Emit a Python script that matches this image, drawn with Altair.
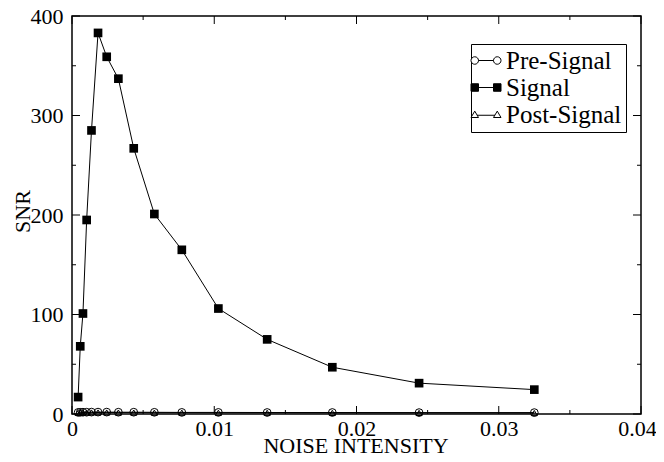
import altair as alt
import pandas as pd

# ---- data ----
noise = [0.00043, 0.00058, 0.00077, 0.00103, 0.00137, 0.00183, 0.00244, 0.00326,
         0.00434, 0.00579, 0.00772, 0.01029, 0.01372, 0.0183, 0.0244, 0.0325]
signal = [17, 68, 101, 195, 285, 383, 359, 337, 267, 201, 165, 106, 75, 47, 31, 24.5]
pre_signal = [1.6, 1.7, 1.8, 1.8, 1.9, 1.9, 1.9, 1.8, 1.8, 1.7, 1.6, 1.6, 1.5, 1.5, 1.4, 1.4]
post_signal = [1.2, 1.3, 1.4, 1.4, 1.5, 1.5, 1.5, 1.4, 1.4, 1.3, 1.3, 1.2, 1.2, 1.1, 1.1, 1.0]
series_names = ["Pre-Signal", "Signal", "Post-Signal"]
x_major = [0, 0.01, 0.02, 0.03, 0.04]
x_minor = [0.005, 0.015, 0.025, 0.035]
y_major = [0, 100, 200, 300, 400]
y_minor = [50, 150, 250, 350]

rows = []
for name, vals in zip(series_names, [pre_signal, signal, post_signal]):
    for xv, yv in zip(noise, vals):
        rows.append({"noise": xv, "snr": yv, "series": name})
df = pd.DataFrame(rows)

FONT = "Liberation Serif"
W, H = 569, 398
MAJ, MIN = 8, 4
xscale = alt.Scale(domain=[0, 0.04], nice=False, zero=False)
yscale = alt.Scale(domain=[0, 400], nice=False)

x_axis = alt.Axis(
    values=x_major, title="NOISE INTENSITY", grid=False, domain=False, ticks=False, tickSize=0,
    labelExpr="datum.value == 0 ? '0' : format(datum.value, '.2f')",
    labelFont=FONT, labelFontSize=22, labelColor="black", labelPadding=4,
    labelFlush=False, labelOverlap=False,
    labelOffset={"condition": {"test": "datum.value > 0.039", "value": -4}, "value": 0},
    titleFont=FONT, titleFontSize=22, titleFontWeight="normal", titleColor="black",
    titleX=W / 2 - 1, titleY=31, titleBaseline="middle", titleAlign="center",
)
y_axis = alt.Axis(
    values=y_major, title="SNR", grid=False, domain=False, ticks=False, tickSize=0,
    labelFont=FONT, labelFontSize=22, labelColor="black", labelPadding=9,
    labelFlush=False, labelOverlap=False,
    titleFont=FONT, titleFontSize=22, titleFontWeight="normal", titleColor="black",
    titleX=-50, titleY=H / 2 - 4, titleBaseline="middle", titleAlign="center", titleAngle=270,
)

base = alt.Chart(df)
X = lambda f="noise": alt.X(f"{f}:Q", scale=xscale, axis=x_axis)
Y = lambda f="snr": alt.Y(f"{f}:Q", scale=yscale, axis=y_axis)

lines = base.mark_line(color="black", strokeWidth=1).encode(x=X(), y=Y(), detail="series:N")


# inward ticks on all four sides, positioned through the shared scales
def xticks(vals, length):
    d = pd.DataFrame({"noise": vals})
    bottom = alt.Chart(d).mark_rule(color="black", strokeWidth=1).encode(
        x=X(), y=alt.value(H), y2=alt.value(H - length))
    top = alt.Chart(d).mark_rule(color="black", strokeWidth=1).encode(
        x=X(), y=alt.value(0), y2=alt.value(length))
    return [bottom, top]


def yticks(vals, length):
    d = pd.DataFrame({"snr": vals})
    left = alt.Chart(d).mark_rule(color="black", strokeWidth=1).encode(
        y=Y(), x=alt.value(0), x2=alt.value(length))
    right = alt.Chart(d).mark_rule(color="black", strokeWidth=1).encode(
        y=Y(), x=alt.value(W), x2=alt.value(W - length))
    return [left, right]


tick_layers = xticks(x_major, MAJ) + xticks(x_minor, MIN) + yticks(y_major, MAJ) + yticks(y_minor, MIN)

pre_pts = base.transform_filter(alt.datum.series == "Pre-Signal").mark_point(
    shape="circle", filled=False, stroke="black", strokeWidth=1, size=60, opacity=1
).encode(x=X(), y=Y())

post_pts = base.transform_filter(alt.datum.series == "Post-Signal").mark_point(
    shape="triangle-up", filled=False, stroke="black", strokeWidth=1, size=36, opacity=1
).encode(x=X(), y=Y())

sig_pts = base.transform_filter(alt.datum.series == "Signal").mark_point(
    shape="square", filled=True, fill="black", size=75, opacity=1
).encode(x=X(), y=Y())

# legend symbols: marker - line - marker
circ_path = ("M -2.2,0 A 0.5,0.5 0 1,0 -1.2,0 A 0.5,0.5 0 1,0 -2.2,0 Z "
             "M -1.2,0 L 0.8,0 "
             "M 0.8,0 A 0.5,0.5 0 1,0 1.8,0 A 0.5,0.5 0 1,0 0.8,0 Z")
sq_path = ("M -2.2,-0.5 L -1.2,-0.5 L -1.2,0.5 L -2.2,0.5 Z "
           "M -1.2,0 L 0.8,0 "
           "M 0.8,-0.5 L 1.8,-0.5 L 1.8,0.5 L 0.8,0.5 Z")
tri_path = ("M -1.7,-0.45 L -1.2,0.4 L -2.2,0.4 Z "
            "M -1.4,0.1 L 1.0,0.1 "
            "M 1.3,-0.45 L 1.8,0.4 L 0.8,0.4 Z")

leg = alt.Legend(title=None, orient="none", legendX=399, legendY=28,
                 labelFont=FONT, labelFontSize=25, labelColor="black",
                 symbolSize=225, labelOffset=6, padding=4, rowPadding=1,
                 strokeColor="black", fillColor="white", symbolStrokeWidth=1)

legend_layer = base.transform_filter("false").mark_point(
    filled=True, stroke="black", strokeWidth=1, opacity=1
).encode(
    x=X(), y=Y(),
    fill=alt.Fill("series:N", scale=alt.Scale(domain=series_names, range=["white", "black", "white"]),
                  legend=leg),
    shape=alt.Shape("series:N", scale=alt.Scale(domain=series_names, range=[circ_path, sq_path, tri_path]),
                    legend=leg),
)

chart = alt.layer(lines, *tick_layers, pre_pts, post_pts, sig_pts, legend_layer).properties(
    width=W, height=H,
    autosize=alt.AutoSizeParams(type="none"),
    padding={"left": 64, "top": 8, "right": 15, "bottom": 40},
    background="white",
).configure_view(stroke="black", strokeWidth=1.5)

chart.save("out.html", embed_options={"renderer": "svg", "actions": False})
